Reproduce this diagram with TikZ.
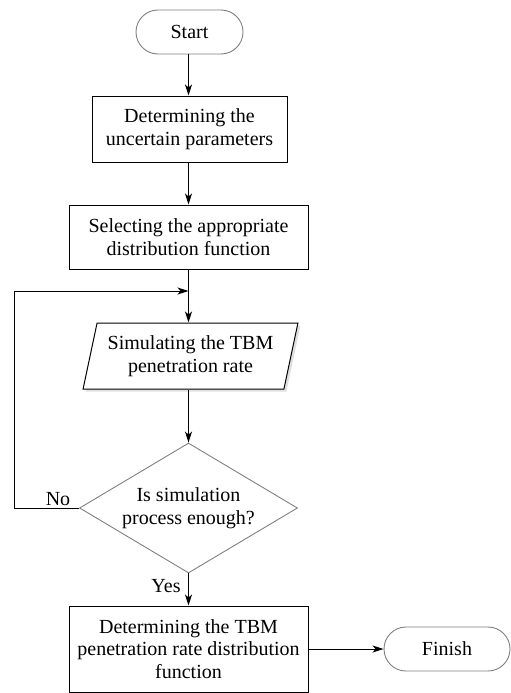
\documentclass[tikz,border=0pt]{standalone}
\usepackage{fontspec}
\setmainfont{Liberation Serif}
\usetikzlibrary{shapes.geometric,shapes.misc,arrows.meta,shadows}
\begin{document}
\begin{tikzpicture}[x=1pt,y=-1pt,
  font=\fontsize{20}{22.5}\selectfont,
  >={Stealth[length=11pt,width=7pt,inset=3pt]},
  line/.style={draw=black,line width=1pt},
  terminal/.style={rounded rectangle,draw=black!50,line width=0.9pt,
    minimum height=44pt,inner sep=0pt},
  process/.style={rectangle,draw=black,line width=1pt,
    align=center,inner sep=0pt},
  io/.style={trapezium,trapezium left angle=73,trapezium right angle=107,
    trapezium stretches=true,draw=black,line width=1pt,fill=white,
    drop shadow={shadow xshift=2.5pt,shadow yshift=-2.5pt,fill=black!12,opacity=1},
    minimum width=215pt,minimum height=66pt,inner sep=0pt,align=center},
  decision/.style={diamond,draw=black!50,line width=0.9pt,
    minimum width=218pt,minimum height=130pt,inner sep=0pt},
  lbl/.style={inner sep=0pt}]
\useasboundingbox (0,0) rectangle (511,693);

\node[terminal,minimum width=107pt] (start) at (189.5,32) {Start};
\node[process,minimum width=195pt,minimum height=66pt] (det) at (189.5,129)
  {Determining the\\uncertain parameters};
\node[process,minimum width=239pt,minimum height=64pt] (sel) at (188.5,237)
  {Selecting the appropriate\\distribution function};
\node[io] (sim) at (190.5,356) {Simulating the TBM\\penetration rate};
\node[decision] (dec) at (188.5,508) {};
\node[lbl,align=center] (dectext) at (dec.center) {Is simulation\\process enough?};
\node[process,minimum width=239pt,minimum height=86pt] (res) at (188.5,649)
  {Determining the TBM\\penetration rate distribution\\function};
\node[terminal,minimum width=126pt] (fin) at (447,649) {Finish};

\coordinate (loopin) at (188.5,291);
\coordinate (loopcorner) at (14,508);
\node[lbl] (no) at (58,499) {No};
\node[lbl] (yes) at (166,586) {Yes};

\draw[line,->] (start.south -| sel.north) -- (det.north -| sel.north);
\draw[line,->] (det.south -| sel.north) -- (sel);
\draw[line,->] (sel) -- (sim.north -| sel.south);
\draw[line,->] (sim.south -| sel.south) -- (dec.north);
\draw[line,->] (dec.west) -- (loopcorner) |- (loopin);
\draw[line,->] (dec.south) -- (res.north);
\draw[line,->] (res) -- (fin);
\end{tikzpicture}
\end{document}
